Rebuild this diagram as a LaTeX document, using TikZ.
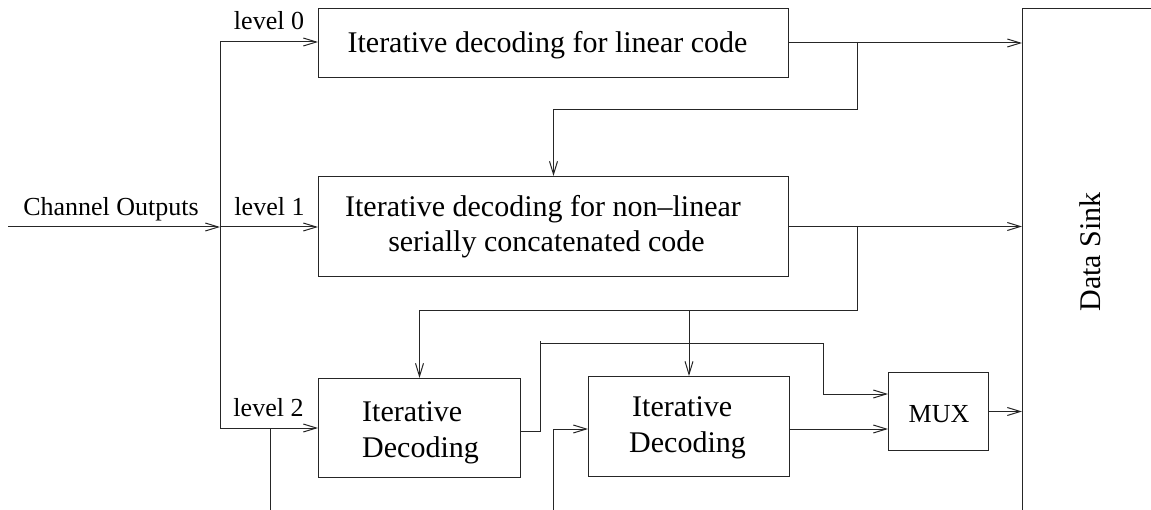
\documentclass[tikz,border=0pt]{standalone}
\usepackage{fontspec}
\setmainfont{Liberation Serif}
\usetikzlibrary{arrows.meta}
\begin{document}
\begin{tikzpicture}[x=1pt,y=-1pt,
  ln/.style={draw=black!85, line width=1pt},
  arr/.style={ln, -{Straight Barb[length=13pt,width=8pt,line width=1pt]}},
  blk/.style={draw=black!85, line width=1pt, inner sep=0pt, anchor=north west},
  big/.style={font=\fontsize{30}{35}\selectfont, inner sep=0pt},
  small/.style={font=\fontsize{26}{30}\selectfont, inner sep=0pt}]
\useasboundingbox (0,0) rectangle (1151,510);
\clip (0,0) rectangle (1151,510);

% blocks
\node[blk, minimum width=470pt, minimum height=69pt]  (b0)  at (318,8)   {};
\node[blk, minimum width=470pt, minimum height=100pt] (b1)  at (318,176) {};
\node[blk, minimum width=202pt, minimum height=99pt]  (b2)  at (318,378) {};
\node[blk, minimum width=201pt, minimum height=100pt] (b3)  at (588,376) {};
\node[blk, minimum width=100pt, minimum height=78pt]  (mux) at (888,372) {};
\node[blk, minimum width=220pt, minimum height=560pt] (sink) at (1022,8) {};

% texts
\node[big, anchor=base] (t0)  at (547.5,53) {Iterative decoding for linear code};
\node[big, anchor=base] (t1a) at (543,217)  {Iterative decoding for non–linear};
\node[big, anchor=base] (t1b) at (546.5,252) {serially concatenated code};
\node[big, anchor=base west] (t2a) at (362,421) {Iterative};
\node[big, anchor=base west] (t2b) at (362,457) {Decoding};
\node[big, anchor=base west] (t3a) at (632,417) {Iterative};
\node[big, anchor=base west] (t3b) at (629,452) {Decoding};
\node[small, anchor=base] (tm) at (939,422) {MUX};
\node[big, anchor=base, rotate=90] (ts) at (1100,252) {Data Sink};
\node[small, anchor=base] (l0) at (269,30)    {level 0};
\node[small, anchor=base] (l1) at (269.5,216) {level 1};
\node[small, anchor=base] (l2) at (268.5,417) {level 2};
\node[small, anchor=base] (lc) at (111,216)   {Channel Outputs};

% coordinates
\coordinate (cin) at (8,227);
\coordinate (j0)  at (220,42);
\coordinate (j1)  at (220,227);
\coordinate (j2)  at (220,428);
\coordinate (j2b) at (270,428);
\coordinate (d2)  at (270,510);
\coordinate (s0)  at (857,42);
\coordinate (k0)  at (857,110);
\coordinate (s1)  at (857,226);
\coordinate (k1)  at (857,311);
\coordinate (o2)  at (520,431);
\coordinate (c2)  at (540,431);
\coordinate (c2t) at (540,341);
\coordinate (c2h) at (540,344);
\coordinate (c3)  at (823,344);
\coordinate (in3) at (553,510);

% input distribution
\draw[arr] (cin) -- (j1);
\draw[ln] (j0) -- (j2);
\draw[arr] (j0) -- (j0 -| b0.west);
\draw[arr] (j1) -- (j1 -| b1.west);
\draw[arr] (j2) -- (j2 -| b2.west);
\draw[ln] (j2b) -- (d2);

% level 0
\draw[arr] (b0.east) -- (b0.east -| sink.west);
\draw[arr] (s0) -- (k0) -| (b1.north);

% level 1
\draw[arr] (b1.east) -- (b1.east -| sink.west);
\draw[arr] (s1) -- (k1) -| (b2.north);
\draw[arr] (k1 -| b3.north) -- (b3.north);

% level 2
\draw[ln] (o2) -- (c2) -- (c2t);
\draw[arr] (c2h) -- (c3) |- (mux.west |- 0,394);
\draw[arr] (in3) |- (b3.west |- 0,429);
\draw[arr] (b3.east |- 0,429) -- (mux.west |- 0,429);
\draw[arr] (mux.east) -- (mux.east -| sink.west);
\end{tikzpicture}
\end{document}
